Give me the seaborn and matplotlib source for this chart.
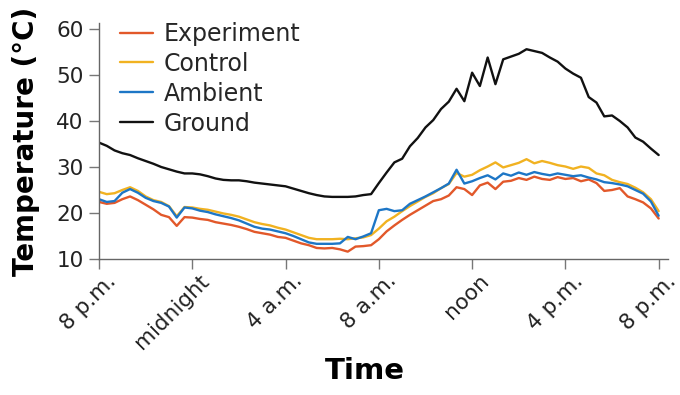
import numpy as np
import pandas as pd
import matplotlib
matplotlib.use("Agg")
import matplotlib.pyplot as plt
import matplotlib.transforms as mtransforms
import seaborn as sns

# hours after 8 p.m., one reading every 20 minutes
hours = np.round(np.arange(73) / 3, 3)

experiment = [22.4, 22.0, 22.2, 23.0, 23.6, 22.8, 21.8, 20.8, 19.6, 19.1, 17.2, 19.1,
              19.0, 18.7, 18.5, 18.0, 17.7, 17.4, 17.0, 16.5, 15.9, 15.6, 15.3, 14.8,
              14.6, 14.0, 13.4, 13.0, 12.4, 12.3, 12.4, 12.1, 11.6, 12.7, 12.8, 13.0,
              14.3, 16.0, 17.3, 18.5, 19.6, 20.6, 21.6, 22.6, 23.0, 23.8, 25.6, 25.2,
              23.9, 26.0, 26.6, 25.2, 26.8, 27.0, 27.6, 27.2, 27.9, 27.4, 27.2, 27.8,
              27.4, 27.6, 26.9, 27.3, 26.5, 24.8, 25.0, 25.4, 23.6, 23.0, 22.3, 21.0,
              18.8]
control = [24.6, 24.1, 24.3, 25.0, 25.6, 24.8, 23.6, 22.8, 22.4, 21.5, 19.3, 21.3,
           21.2, 20.9, 20.7, 20.3, 19.9, 19.6, 19.2, 18.6, 18.0, 17.6, 17.3, 16.8,
           16.4, 15.8, 15.2, 14.6, 14.3, 14.3, 14.3, 14.4, 14.3, 14.5, 14.7, 15.2,
           16.6, 18.2, 19.2, 20.4, 21.5, 22.5, 23.5, 24.3, 25.4, 26.3, 28.7, 27.9,
           28.3, 29.3, 30.1, 31.0, 29.9, 30.4, 30.9, 31.7, 30.8, 31.3, 30.9, 30.4,
           30.1, 29.6, 30.1, 29.8, 28.6, 28.2, 27.2, 26.7, 26.3, 25.5, 24.5, 23.0,
           20.4]
ambient = [23.0, 22.4, 22.6, 24.4, 25.2, 24.4, 23.3, 22.6, 22.2, 21.4, 19.0, 21.2,
           21.0, 20.5, 20.2, 19.7, 19.3, 18.9, 18.4, 17.7, 17.0, 16.6, 16.4, 16.0,
           15.6, 15.0, 14.3, 13.6, 13.3, 13.3, 13.3, 13.4, 14.8, 14.3, 14.9, 15.6,
           20.6, 20.9, 20.4, 20.6, 22.0, 22.8, 23.6, 24.5, 25.4, 26.4, 29.4, 26.4,
           26.9, 27.6, 28.2, 27.3, 28.6, 28.1, 28.8, 28.3, 28.9, 28.5, 28.2, 28.6,
           28.3, 28.0, 28.2, 27.7, 27.3, 26.7, 26.5, 26.2, 25.8, 25.0, 24.2, 22.5,
           19.4]
ground = [35.3, 34.6, 33.6, 33.0, 32.6, 31.9, 31.3, 30.7, 30.0, 29.5, 29.0, 28.6,
          28.6, 28.4, 28.0, 27.5, 27.2, 27.1, 27.1, 26.9, 26.6, 26.4, 26.2, 26.0,
          25.8, 25.3, 24.8, 24.3, 23.9, 23.6, 23.5, 23.5, 23.5, 23.6, 23.9, 24.1,
          26.5, 28.8, 31.0, 31.8, 34.5, 36.3, 38.6, 40.2, 42.6, 44.2, 47.0, 44.3,
          50.5, 47.6, 53.8, 48.0, 53.4, 54.0, 54.6, 55.6, 55.2, 54.8, 53.8, 52.9,
          51.4, 50.3, 49.4, 45.2, 44.0, 41.0, 41.2, 40.0, 38.6, 36.4, 35.5, 34.0,
          32.6]

series_names = ["Experiment", "Control", "Ambient", "Ground"]
colors = ["#e2582a", "#f1b221", "#1d76c6", "#111111"]
tick_hours = [0, 4, 8, 12, 16, 20, 24]
tick_labels = ["8 p.m.", "midnight", "4 a.m.", "8 a.m.", "noon", "4 p.m.", "8 p.m."]

df = pd.DataFrame({
    "hours": np.tile(hours, 4),
    "temp": experiment + control + ambient + ground,
    "series": np.repeat(series_names, len(hours)),
})

sns.set_theme(style="ticks")
plt.rcParams["font.family"] = ["DejaVu Sans"]

fig = plt.figure(figsize=(6.8, 3.95), dpi=100)
ax = fig.add_axes([99 / 680, 1 - 259 / 395, 569 / 680, 236 / 395])

sns.lineplot(data=df, x="hours", y="temp", hue="series", hue_order=series_names,
             palette=dict(zip(series_names, colors)), linewidth=1.7, ax=ax)

ax.set_xlim(0, 24.4)
ax.set_ylim(10, 61.3)
ax.set_xticks(tick_hours)
ax.set_yticks([10, 20, 30, 40, 50, 60])
ax.tick_params(axis="y", labelsize=15.5, labelcolor="#222222", pad=4)
ax.tick_params(axis="both", color="#777777", length=7, width=1)
ax.set_xticklabels(tick_labels, rotation=45, ha="right", va="top",
                   rotation_mode="anchor", fontsize=15.5, color="#222222")

for side in ["top", "right"]:
    ax.spines[side].set_visible(False)
for side in ["left", "bottom"]:
    ax.spines[side].set_color("#666666")
    ax.spines[side].set_linewidth(1)

ax.set_xlabel("Time", fontsize=21, fontweight="bold", color="black")
ax.xaxis.set_label_coords(0.467, -0.415)
ax.set_ylabel("Temperature (°C)", fontsize=20, fontweight="bold", color="black")
ax.yaxis.set_label_coords(-0.104, 0.5)

ax.legend(frameon=False, loc="upper left", bbox_to_anchor=(0.037, 1.005),
          fontsize=17, handlelength=1.4, handletextpad=0.45, labelspacing=0.25,
          borderpad=0, borderaxespad=0)

# nudge the rotated labels a little right and up (after all tick_params calls)
shift = mtransforms.ScaledTranslation(7 / 100, 3 / 100, fig.dpi_scale_trans)
for lbl in ax.get_xticklabels():
    lbl.set_transform(lbl.get_transform() + shift)

fig.savefig("out.png", dpi=100)
